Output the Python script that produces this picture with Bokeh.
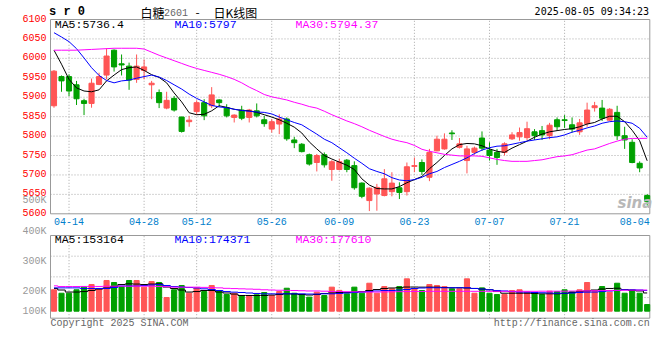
from bokeh.plotting import figure
from bokeh.models import Range1d
from bokeh.core.properties import value
from bokeh.embed import file_html
from bokeh.resources import INLINE

# ---------------- data ----------------
date_ticks = ["04-14", "04-28", "05-12", "05-26", "06-09", "06-23", "07-07", "07-21", "08-04"]
date_tick_idx = [2, 12, 19, 29, 38, 48, 58, 68, 78]

opens = [5878, 5953, 5953, 5932, 5891, 5884, 5933, 5957, 6021, 5986,
         5980, 5946, 5969, 5932, 5912, 5872, 5897, 5849, 5837, 5863,
         5886, 5878, 5893, 5873, 5848, 5867, 5848, 5865, 5842, 5818,
         5831, 5844, 5790, 5779, 5752, 5732, 5752, 5714, 5714, 5738,
         5724, 5679, 5634, 5651, 5647, 5657, 5667, 5657, 5722, 5732,
         5694, 5762, 5767, 5808, 5771, 5737, 5758, 5795, 5764, 5758,
         5758, 5793, 5798, 5796, 5811, 5814, 5801, 5842, 5842, 5829,
         5811, 5832, 5873, 5872, 5841, 5861, 5801, 5784, 5730, 5647]
highs = [5970, 5956, 5959, 5942, 5896, 5948, 5963, 6026, 6023, 6010,
         5989, 6010, 5997, 5942, 5920, 5914, 5903, 5850, 5852, 5892,
         5895, 5926, 5895, 5882, 5856, 5878, 5870, 5884, 5852, 5844,
         5856, 5848, 5798, 5782, 5755, 5754, 5758, 5738, 5742, 5741,
         5735, 5681, 5668, 5677, 5715, 5707, 5681, 5732, 5745, 5740,
         5767, 5801, 5807, 5815, 5795, 5775, 5773, 5812, 5784, 5767,
         5784, 5810, 5822, 5837, 5818, 5826, 5834, 5848, 5854, 5848,
         5844, 5886, 5888, 5893, 5872, 5878, 5824, 5792, 5735, 5651]
lows = [5873, 5914, 5903, 5880, 5854, 5873, 5931, 5946, 5966, 5956,
        5919, 5937, 5946, 5895, 5872, 5869, 5863, 5809, 5824, 5855,
        5841, 5872, 5875, 5848, 5835, 5841, 5835, 5848, 5824, 5809,
        5805, 5788, 5769, 5758, 5724, 5709, 5719, 5685, 5712, 5707,
        5662, 5640, 5607, 5608, 5645, 5645, 5638, 5647, 5707, 5700,
        5684, 5761, 5765, 5790, 5768, 5704, 5752, 5762, 5737, 5726,
        5750, 5790, 5788, 5790, 5790, 5790, 5792, 5814, 5821, 5809,
        5803, 5824, 5863, 5839, 5839, 5790, 5767, 5730, 5707, 5621]
closes = [5967, 5942, 5916, 5896, 5884, 5936, 5953, 6006, 5978, 5983,
          5944, 5980, 5978, 5936, 5886, 5892, 5867, 5812, 5841, 5886,
          5852, 5906, 5886, 5852, 5854, 5846, 5867, 5852, 5832, 5837,
          5844, 5793, 5783, 5760, 5728, 5750, 5726, 5734, 5734, 5714,
          5667, 5645, 5666, 5668, 5690, 5679, 5655, 5721, 5724, 5709,
          5758, 5792, 5792, 5806, 5780, 5767, 5769, 5769, 5750, 5745,
          5780, 5803, 5809, 5819, 5801, 5803, 5828, 5824, 5840, 5818,
          5834, 5867, 5878, 5846, 5869, 5801, 5790, 5732, 5718, 5632]

ma5 = [6021, 5985, 5946, 5924, 5916, 5914, 5919, 5942, 5957, 5971,
       5976, 5978, 5969, 5958, 5951, 5937, 5911, 5888, 5860, 5855,
       5856, 5865, 5878, 5874, 5869, 5866, 5865, 5861, 5855, 5849,
       5842, 5833, 5823, 5808, 5785, 5767, 5750, 5741, 5733, 5725,
       5714, 5690, 5674, 5665, 5664, 5664, 5670, 5680, 5688, 5696,
       5716, 5732, 5750, 5767, 5778, 5781, 5780, 5775, 5767, 5761,
       5758, 5769, 5778, 5787, 5797, 5805, 5811, 5814, 5817, 5819,
       5824, 5831, 5835, 5844, 5851, 5851, 5837, 5815, 5788, 5736.4]
ma10 = [6066, 6055, 6043, 6025, 6001, 5976, 5956, 5943, 5937, 5942,
        5944, 5949, 5953, 5957, 5952, 5943, 5932, 5921, 5908, 5897,
        5888, 5879, 5875, 5873, 5869, 5866, 5864, 5862, 5861, 5857,
        5849, 5842, 5835, 5829, 5817, 5805, 5792, 5783, 5770, 5757,
        5743, 5730, 5716, 5709, 5703, 5693, 5687, 5685, 5688, 5694,
        5703, 5709, 5719, 5727, 5735, 5744, 5755, 5764, 5770, 5774,
        5775, 5779, 5783, 5787, 5790, 5793, 5796, 5798, 5803, 5810,
        5815, 5821, 5826, 5833, 5837, 5839, 5837, 5833, 5820, 5797]
ma30 = [6021, 6021, 6021, 6021, 6022, 6023, 6024, 6025, 6026, 6026,
        6026, 6026, 6024, 6016, 6008, 6001, 5994, 5987, 5980, 5974,
        5969, 5964, 5959, 5953, 5946, 5937, 5926, 5917, 5907, 5901,
        5897, 5893, 5887, 5882, 5876, 5872, 5864, 5855, 5847, 5839,
        5832, 5824, 5815, 5807, 5799, 5792, 5787, 5783, 5776, 5766,
        5761, 5757, 5753, 5751, 5749, 5749, 5749, 5748, 5744, 5740,
        5737, 5735, 5735, 5735, 5737, 5739, 5743, 5747, 5749, 5752,
        5758, 5764, 5767, 5774, 5781, 5787, 5792, 5794, 5794, 5794.37]

volume = [180, 151, 151, 180, 202, 224, 188, 258, 241, 207,
          258, 258, 202, 249, 241, 115, 180, 216, 151, 196,
          165, 216, 174, 140, 151, 132, 132, 138, 157, 132,
          165, 193, 151, 140, 118, 160, 132, 202, 175, 146,
          202, 151, 235, 151, 207, 188, 207, 272, 188, 174,
          224, 216, 207, 188, 188, 272, 151, 196, 151, 140,
          140, 174, 180, 160, 151, 140, 168, 165, 180, 165,
          180, 241, 174, 207, 160, 235, 151, 180, 151, 56]
vma5 = [191, 178, 161, 161, 165, 174, 186, 195, 207, 224,
        230, 228, 224, 228, 230, 203, 191, 178, 161, 165,
        174, 174, 161, 153, 144, 132, 132, 132, 132, 136,
        140, 146, 144, 140, 136, 140, 149, 153, 157, 157,
        161, 165, 174, 182, 191, 195, 197, 203, 203, 202,
        202, 202, 199, 197, 197, 195, 191, 186, 180, 165,
        151, 151, 151, 151, 149, 146, 146, 146, 149, 157,
        165, 170, 178, 186, 191, 193, 182, 174, 170, 153.164]
vma10 = [196, 196, 196, 196, 191, 191, 191, 191, 199, 212,
         212, 212, 216, 220, 224, 216, 207, 203, 199, 195,
         188, 182, 174, 165, 160, 157, 153, 149, 146, 146,
         146, 146, 146, 146, 144, 144, 146, 146, 149, 153,
         157, 160, 165, 170, 174, 174, 178, 182, 191, 195,
         197, 197, 197, 197, 197, 197, 191, 186, 180, 174,
         170, 165, 161, 160, 157, 155, 153, 151, 151, 153,
         157, 160, 161, 165, 170, 174, 180, 180, 178, 174.371]
vma30 = [213, 207, 207, 207, 208, 208, 208, 210, 210, 210,
         210, 210, 210, 210, 208, 206, 202, 202, 202, 202,
         200, 198, 196, 192, 190, 188, 186, 184, 180, 178,
         176, 175, 174, 172, 170, 170, 168, 166, 165, 164,
         163, 162, 161, 161, 162, 163, 164, 165, 166, 166,
         167, 167, 167, 167, 167, 167, 167, 167, 167, 167,
         167, 167, 167, 167, 167, 168, 168, 168, 168, 169,
         170, 171, 172, 173, 174, 175, 176, 177, 177, 177.61]

price_ticks = [5600, 5650, 5700, 5750, 5800, 5850, 5900, 5950, 6000, 6050, 6100]
vol_labels = ["500K", "400K", "300K", "200K", "100K"]

# ---------------- layout helpers (pixel -> data) ----------------
UP, DN = "#ff5555", "#00a000"
GRID = "#a8a8a8"
BORDER = "#999999"
MONO = "Liberation Mono"
W, H = 660, 360
PL, PR = 50, 649.3          # panel left / right (px)
PT, PB = 19, 213.3          # price panel top / bottom (px)
VT, VB = 235, 317.7         # volume panel top / bottom (px)
VBASE = 310.7               # volume baseline (px)
VPX = 8400.0                # volume units per px
X0, X1 = -0.466, 79.35      # index at PL / PR
PX = (PR - PL) / (X1 - X0)

def ix(px):
    return X0 + (px - PL) / PX

def pr(py):
    return price_ticks[-1] - (py - PT) * (price_ticks[-1] - price_ticks[0]) / (PB - PT)

def vr(py):
    return (VBASE - py) * VPX

idx = list(range(len(closes)))
colors = [UP if c >= o else DN for o, c in zip(opens, closes)]
body_top = [max(o, c) for o, c in zip(opens, closes)]
body_bot = [min(o, c) for o, c in zip(opens, closes)]
vol_units = [v * 1000 for v in volume]

p = figure(width=W, height=H, x_range=Range1d(ix(0), ix(W)), y_range=Range1d(pr(H), pr(0)),
           output_backend="svg", toolbar_location=None, tools="",
           x_axis_location=None, y_axis_location=None,
           min_border=0, min_border_left=0, min_border_right=0, min_border_top=0, min_border_bottom=0,
           outline_line_color=None, background_fill_color="white", border_fill_color="white")
p.grid.visible = False
p.extra_y_ranges = {"vol": Range1d(vr(H), vr(0))}

# ---- price panel grid + frame
vx = date_tick_idx[:-1]
p.segment(x0=vx, y0=[price_ticks[0]] * len(vx), x1=vx, y1=[price_ticks[-1]] * len(vx),
          line_color=GRID, line_dash="1 2", line_width=1)
hy = price_ticks[1:-1]
p.segment(x0=[ix(PL)] * len(hy), y0=hy, x1=[ix(PR)] * len(hy), y1=hy,
          line_color=GRID, line_dash="1 2", line_width=1)
p.quad(left=[ix(PL)], right=[ix(PR)], bottom=[price_ticks[0]], top=[price_ticks[-1]],
       fill_color=None, line_color=BORDER, line_width=1)

# ---- candles + MAs
p.segment(x0=idx, y0=lows, x1=idx, y1=highs, line_color=colors, line_width=1)
p.vbar(x=idx, width=0.68, top=body_top, bottom=body_bot, fill_color=colors, line_color=colors, line_width=1)
p.line(idx, ma5, line_color="black", line_width=1)
p.line(idx, ma10, line_color="#0000ff", line_width=1)
p.line(idx, ma30, line_color="#ff00ff", line_width=1)

# ---- volume panel grid + frame
vlo, vhi = vr(VB), vr(VT)
p.segment(x0=vx, y0=[vlo] * len(vx), x1=vx, y1=[vhi] * len(vx),
          line_color=GRID, line_dash="1 2", line_width=1, y_range_name="vol")
vh = [vlo + f * (vhi - vlo) for f in (0.25, 0.5, 0.75)]
p.segment(x0=[ix(PL)] * 3, y0=vh, x1=[ix(PR)] * 3, y1=vh,
          line_color=GRID, line_dash="1 2", line_width=1, y_range_name="vol")
p.quad(left=[ix(PL)], right=[ix(PR)], bottom=[vlo], top=[vhi],
       fill_color=None, line_color=BORDER, line_width=1, y_range_name="vol")

p.vbar(x=idx, width=0.68, top=vol_units, bottom=0, fill_color=colors, line_color=colors,
       line_width=1, y_range_name="vol")
p.step(idx, [v * 1000 for v in vma5], mode="center", line_color="black", line_width=1, y_range_name="vol")
p.step(idx, [v * 1000 for v in vma10], mode="center", line_color="#0000ff", line_width=1, y_range_name="vol")
p.step(idx, [v * 1000 for v in vma30], mode="center", line_color="#ff00ff", line_width=1, y_range_name="vol")

# ---- texts
def txt(x, y, s, color="black", size="10px", font=MONO, align="left", style="normal",
        rng="default", yoff=0, alpha=1.0):
    xs = x if isinstance(x, list) else [x]
    ys = y if isinstance(y, list) else [y]
    ss = s if isinstance(s, list) else [s]
    p.text(x=xs, y=ys, text=ss, text_color=color, text_font=value(font), text_font_size=value(size),
           text_align=align, text_baseline="middle", text_font_style=style, y_offset=yoff,
           text_alpha=alpha, y_range_name=rng)

# price tick labels (left) and date labels (below)
txt([ix(46)] * len(price_ticks), price_ticks, [str(t) for t in price_ticks], color="#ff0000",
    align="right", yoff=-1.5)
lab_pos = [min(max(t, ix(PL) + 15 / PX), ix(PR) - 15 / PX) for t in date_tick_idx]
txt(lab_pos, [pr(221)] * len(lab_pos), date_ticks, color="#0080cc", align="center")

# header
txt(ix(48.5), pr(11), "s r 0", size="12px", style="bold")
txt(ix(140), pr(11.5), "白糖", size="12px", font="Noto Sans CJK SC")
txt(ix(163.5), pr(11.5), "2601", color="#666666")
txt(ix(195), pr(11.5), "-", size="12px", font="Noto Sans CJK SC")
txt(ix(213), pr(11.5), "日K线图", size="12px", font="Noto Sans CJK SC")
txt(ix(648.5), pr(11.3), "2025-08-05 09:34:23", font="DejaVu Sans Mono", align="right")

# MA legends
txt(ix(54.3), pr(24), f"MA5:{ma5[-1]:g}", size="11.5px")
txt(ix(174), pr(24), f"MA10:{ma10[-1]:g}", color="#0000ff", size="11.5px")
txt(ix(295), pr(24), f"MA30:{ma30[-1]:g}", color="#ff00ff", size="11.5px")
txt(ix(54.3), vr(238.5), f"MA5:{vma5[-1] * 1000:g}", size="11.5px", rng="vol")
txt(ix(174), vr(238.5), f"MA10:{vma10[-1] * 1000:g}", color="#0000ff", size="11.5px", rng="vol")
txt(ix(295), vr(238.5), f"MA30:{vma30[-1] * 1000:g}", color="#ff00ff", size="11.5px", rng="vol")

# volume scale labels
txt([ix(46)] * len(vol_labels), [vr(py) for py in (199.7, 230.7, 260.7, 291, 310.7)], vol_labels,
    color="#999999", align="right", rng="vol")

# watermark
txt(ix(617), pr(202), "sina", color="#b8b8b8", size="15px", font="DejaVu Sans", style="bold italic")

# footer
txt(ix(50), vr(323.3), "Copyright 2025 SINA.COM", color="#666666", rng="vol")
txt(ix(649.3), vr(323.3), "http://finance.sina.com.cn", color="#666666", align="right", rng="vol")

open("out.html", "w").write(file_html(p, INLINE))
